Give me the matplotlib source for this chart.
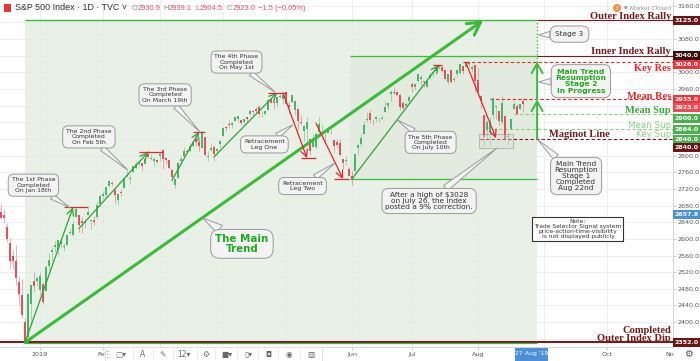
import matplotlib
matplotlib.use("Agg")
import matplotlib.pyplot as plt
from matplotlib.patches import Rectangle, Ellipse
import numpy as np
import pandas as pd

# ---- data: S&P 500 daily candles ----
holidays = ["2018-12-25", "2019-01-01", "2019-01-21", "2019-02-18",
            "2019-04-19", "2019-05-27", "2019-07-04"]
dates = pd.bdate_range("2018-12-12", "2019-08-22", freq="C", holidays=holidays)

opens = [
    # Dec
    2664, 2658, 2629, 2590, 2559, 2547, 2496, 2466, 2401, 2364, 2443, 2498, 2499,
    # Jan
    2477, 2491, 2474, 2535, 2568, 2580, 2573, 2588, 2580, 2586, 2614, 2609, 2652, 2658, 2643, 2639, 2657, 2644, 2645, 2653, 2685,
    # Feb
    2703, 2706, 2728, 2735, 2717, 2693, 2713, 2722, 2750, 2743, 2761, 2770, 2780, 2782, 2780, 2804, 2793, 2787, 2789,
    # Mar
    2798, 2814, 2794, 2790, 2766, 2730, 2747, 2788, 2800, 2810, 2811, 2822, 2841, 2832, 2819, 2845, 2797, 2813, 2820, 2810, 2828,
    # Apr
    2848, 2869, 2877, 2874, 2884, 2888, 2886, 2882, 2892, 2900, 2908, 2913, 2916, 2904, 2899, 2910, 2935, 2928, 2926, 2941, 2937,
    # May
    2952, 2922, 2930, 2909, 2913, 2880, 2860, 2864, 2841, 2820, 2820, 2856, 2859, 2841, 2855, 2857, 2837, 2833, 2831, 2791, 2787, 2767,
    # Jun
    2752, 2763, 2819, 2828, 2853, 2885, 2903, 2882, 2887, 2887, 2889, 2906, 2920, 2949, 2952, 2952, 2946, 2926, 2920, 2932,
    # Jul
    2971, 2965, 2979, 2985, 2980, 2966, 2989, 2999, 3003, 3017, 3012, 3006, 2978, 3005, 2981, 2995, 2999, 3016, 3014, 3024, 3007, 3017,
    # Aug
    2981, 2944, 2898, 2862, 2858, 2897, 2918, 2907, 2881, 2895, 2846, 2865, 2913, 2920, 2912, 2930.9,
]
highs = [
    2685, 2671, 2638, 2601, 2573, 2585, 2510, 2504, 2410, 2467, 2489, 2520, 2510,
    2520, 2493, 2538, 2566, 2580, 2595, 2597, 2596, 2590, 2612, 2625, 2645, 2676, 2658, 2653, 2647, 2673, 2644, 2655, 2690, 2708,
    2716, 2725, 2739, 2739, 2719, 2709, 2719, 2745, 2762, 2757, 2775, 2788, 2790, 2782, 2794, 2813, 2803, 2796, 2793,
    2808, 2816, 2797, 2791, 2768, 2745, 2784, 2798, 2821, 2816, 2831, 2836, 2852, 2844, 2861, 2846, 2810, 2830, 2826, 2819, 2837,
    2870, 2872, 2885, 2881, 2893, 2896, 2886, 2889, 2893, 2911, 2909, 2917, 2922, 2908, 2910, 2936, 2937, 2933, 2940, 2949, 2948,
    2955, 2932, 2948, 2933, 2914, 2898, 2874, 2892, 2841, 2853, 2858, 2892, 2876, 2853, 2868, 2863, 2837, 2841, 2841, 2792, 2799, 2772,
    2763, 2804, 2828, 2853, 2884, 2904, 2910, 2888, 2895, 2894, 2898, 2931, 2930, 2958, 2965, 2955, 2947, 2932, 2929, 2943,
    2978, 2974, 2996, 2994, 2980, 2981, 3002, 3003, 3014, 3017, 3016, 3006, 2996, 3007, 2991, 3005, 3020, 3016, 3028, 3025, 3018, 3018,
    3014, 2945, 2898, 2885, 2892, 2938, 2919, 2907, 2943, 2895, 2857, 2889, 2931, 2924, 2924, 2939.1,
]
lows = [
    2650, 2637, 2593, 2530, 2528, 2488, 2441, 2409, 2351, 2350, 2398, 2473, 2487,
    2468, 2444, 2474, 2525, 2547, 2569, 2562, 2577, 2571, 2586, 2612, 2606, 2652, 2617, 2613, 2627, 2657, 2624, 2633, 2648, 2678,
    2696, 2700, 2724, 2727, 2687, 2682, 2703, 2722, 2748, 2732, 2760, 2767, 2774, 2764, 2780, 2794, 2789, 2775, 2782,
    2787, 2767, 2781, 2768, 2738, 2722, 2747, 2787, 2799, 2804, 2810, 2821, 2823, 2812, 2818, 2800, 2786, 2812, 2788, 2799, 2819,
    2848, 2859, 2866, 2867, 2883, 2881, 2874, 2879, 2881, 2898, 2896, 2901, 2893, 2892, 2897, 2909, 2926, 2913, 2917, 2939, 2924,
    2923, 2901, 2929, 2898, 2862, 2873, 2836, 2826, 2802, 2820, 2815, 2855, 2852, 2831, 2855, 2852, 2806, 2820, 2801, 2767, 2777, 2751,
    2729, 2763, 2801, 2823, 2853, 2882, 2878, 2874, 2881, 2880, 2887, 2905, 2911, 2932, 2947, 2944, 2910, 2912, 2919, 2929,
    2953, 2958, 2978, 2967, 2966, 2964, 2984, 2988, 3003, 3008, 3000, 2984, 2972, 2974, 2976, 2988, 2997, 2996, 3013, 3015, 3000, 2954,
    2946, 2914, 2822, 2840, 2825, 2891, 2888, 2874, 2877, 2840, 2826, 2865, 2913, 2899, 2911, 2904.5,
]
closes = [
    2651, 2650, 2600, 2546, 2546, 2507, 2467, 2417, 2351, 2468, 2489, 2486, 2507,
    2510, 2448, 2532, 2550, 2574, 2585, 2597, 2596, 2583, 2610, 2616, 2636, 2671, 2633, 2639, 2642, 2665, 2644, 2640, 2681, 2704,
    2707, 2725, 2738, 2732, 2706, 2708, 2710, 2745, 2753, 2746, 2776, 2780, 2785, 2775, 2793, 2796, 2794, 2792, 2784,
    2804, 2793, 2790, 2771, 2749, 2743, 2783, 2792, 2811, 2808, 2822, 2833, 2833, 2824, 2855, 2801, 2798, 2818, 2805, 2815, 2834,
    2867, 2867, 2873, 2879, 2893, 2896, 2878, 2888, 2888, 2907, 2906, 2907, 2900, 2905, 2908, 2934, 2927, 2926, 2940, 2943, 2946,
    2924, 2918, 2946, 2932, 2884, 2879, 2871, 2881, 2812, 2834, 2851, 2876, 2860, 2840, 2864, 2856, 2822, 2826, 2802, 2783, 2789, 2752,
    2744, 2803, 2826, 2843, 2873, 2887, 2886, 2880, 2892, 2887, 2890, 2918, 2926, 2954, 2950, 2945, 2917, 2914, 2925, 2942,
    2964, 2973, 2996, 2990, 2976, 2980, 2993, 3000, 3014, 3014, 3004, 2984, 2995, 2977, 2985, 3005, 3020, 3004, 3026, 3021, 3013, 2980,
    2954, 2932, 2845, 2882, 2884, 2938, 2919, 2883, 2926, 2841, 2848, 2889, 2924, 2901, 2924, 2923.0,
]

# key levels drawn by the author
outer_rally = 3125
inner_rally = 3040
key_res = 3026
mean_res = 2935
mean_sup = 2900
mean_sup2 = 2864
maginot = 2840
outer_dip = 2352
leg_low = 2744

# (start date, start price, end date, end price)
phase_legs = [
    ("2018-12-24", 2351, "2019-01-17", 2676),
    ("2019-01-22", 2625, "2019-02-25", 2808),
    ("2019-03-07", 2741, "2019-03-20", 2857),
    ("2019-03-27", 2797, "2019-04-26", 2951),
    ("2019-06-03", 2744, "2019-07-15", 3018),
]
down_legs = [
    ("2019-04-30", 2951, "2019-05-10", 2794),
    ("2019-05-15", 2878, "2019-05-29", 2744),
    ("2019-07-26", 3023, "2019-08-09", 2842),
]
# short red markers at the leg extremes: (from, to, price)
markers = [
    ("2019-01-14", "2019-01-25", 2676), ("2019-02-20", "2019-03-04", 2808),
    ("2019-03-18", "2019-03-22", 2857), ("2019-04-23", "2019-05-01", 2951),
    ("2019-05-08", "2019-05-15", 2794), ("2019-05-23", "2019-05-31", 2744),
    ("2019-07-11", "2019-07-16", 3018), ("2019-07-25", "2019-07-29", 3026),
]

# month labels; the ones hidden under the toolbar / date tag in the original stay blank
month_labels = ["2019", "Feb", "", "", "", "Jun", "Jul", "Aug", "", "Oct", "Nov"]
price_ticks = [3160, 3080, 3000, 2960, 2800, 2760, 2720, 2680, 2640, 2600,
               2560, 2520, 2480, 2440, 2400]

# ---- styles ----
W, H = 700, 361
UP, DN = "#4cb36c", "#e6505b"
GREEN = "#3cba3c"
LEG_GREEN = "#2fa33a"
RED = "#e8262d"
MAROON = "#761b1f"
LIGHT_GREEN = "#8ccf86"
BOX_FC, BOX_EC = "#f3f3f3", "#9a9a9a"

all_days = dates.append(pd.bdate_range("2019-08-23", "2019-11-29"))
pos = {d.strftime("%Y-%m-%d"): i for i, d in enumerate(all_days)}

fig = plt.figure(figsize=(7, 3.61), dpi=100)
ax = fig.add_axes([0, 14 / H, 673 / W, 347 / H])
ax.set_xlim(-1 / 3, 224)
ax.set_ylim(2340.2, 3174)

stage_x = pos["2019-08-28"] + 0.7
dec24 = pos["2018-12-24"]
jun3 = pos["2019-06-03"] - 0.6

# shaded zones
ax.add_patch(Rectangle((dec24, outer_dip), stage_x - dec24, outer_rally - outer_dip,
                       fc="#e9f0e6", ec="none", zorder=0.1))
ax.add_patch(Rectangle((jun3, leg_low), stage_x - jun3, inner_rally - leg_low,
                       fc="#e2ebdd", ec="none", zorder=0.15))

# grid
for v in np.arange(2360, 3161, 40):
    ax.axhline(v, color="#e4e8ee", lw=0.5, zorder=0.3)
month_pos = []
for m in range(1, 12):
    idx = [i for i, d in enumerate(all_days) if d.year == 2019 and d.month == m]
    month_pos.append(idx[0])
for p in month_pos:
    ax.axvline(p, color="#e4e8ee", lw=0.5, zorder=0.3)

# level lines
ax.hlines(outer_rally, dec24, stage_x, color=GREEN, lw=1.0, zorder=1)
ax.hlines(outer_rally, stage_x, 224, color=MAROON, lw=0.8, zorder=1)
ax.hlines(inner_rally, jun3, stage_x, color=GREEN, lw=0.9, zorder=1)
ax.hlines(inner_rally, stage_x, 224, color=MAROON, lw=0.8, zorder=1)
ax.hlines(leg_low, jun3, stage_x, color=GREEN, lw=0.9, zorder=1)
ax.hlines(outer_dip, -1, 224, color=MAROON, lw=1.5, zorder=1)
ax.hlines(outer_dip - 2.6, dec24, stage_x, color=GREEN, lw=0.9, zorder=1)
dash = (0, (3, 2))
ax.hlines(key_res, pos["2019-07-26"], 224, color=RED, lw=0.8, linestyles=dash, zorder=1)
ax.hlines(mean_res, pos["2019-08-07"], 224, color=RED, lw=0.8, linestyles=dash, zorder=1)
ax.hlines(mean_sup, pos["2019-08-19"], 224, color=LIGHT_GREEN, lw=0.8, linestyles=dash, zorder=1)
ax.hlines(mean_sup2, pos["2019-08-07"] + 1, 224, color=LIGHT_GREEN, lw=0.8, linestyles=dash, zorder=1)
ax.hlines(maginot, pos["2019-08-01"] + 0.7, 224, color=MAROON, lw=0.8, linestyles=dash, zorder=1)

# candles
o, h, l, c = (np.array(a, dtype=float) for a in (opens, highs, lows, closes))
x = np.arange(len(c))
col = np.where(c >= o, UP, DN)
ax.vlines(x, l, h, colors=col, lw=0.6, alpha=0.55, zorder=2)
ax.bar(x, np.maximum(np.abs(c - o), 0.9), bottom=np.minimum(o, c), width=0.62,
       color=col, linewidth=0, zorder=2.1)

# correction box
ax.add_patch(Rectangle((pos["2019-08-01"] + 0.3, 2818), 11.4, 34, fc="#d8ddd8", alpha=0.35,
                       ec="#6d6d6d", lw=0.8, zorder=2.5))

# arrows
def arrow(x0, y0, x1, y1, color, lw, hl, hw):
    ax.annotate("", xy=(x1, y1), xytext=(x0, y0), zorder=3,
                arrowprops=dict(arrowstyle=f"->,head_length={hl},head_width={hw}",
                                color=color, lw=lw, shrinkA=0, shrinkB=0))

arrow(dec24, 2351, pos["2019-08-05"] - 0.3, outer_rally, GREEN, 2.2, 0.9, 0.5)
for d0, v0, d1, v1 in phase_legs:
    arrow(pos[d0], v0, pos[d1], v1, LEG_GREEN, 0.9, 0.5, 0.25)
for d0, v0, d1, v1 in down_legs:
    arrow(pos[d0], v0, pos[d1], v1, RED, 0.9, 0.5, 0.25)
for d0, d1, v in markers:
    ax.hlines(v, pos[d0], pos[d1], color=RED, lw=0.9, zorder=3)
arrow(stage_x, maginot, stage_x, mean_res, GREEN, 1.4, 0.7, 0.4)
arrow(stage_x, mean_res, stage_x, key_res, GREEN, 1.4, 0.7, 0.4)
ax.vlines(stage_x, key_res, outer_rally, colors=GREEN, lw=1.0, linestyles=(0, (1, 1.5)), zorder=3)

# callouts
def callout(text, box, tip, size, color="#333333", weight="normal", pad=0.55, ls=1.05):
    ax.annotate(text, xy=tip, xytext=box, ha="center", va="center", fontsize=size,
                color=color, fontweight=weight, linespacing=ls, zorder=6,
                bbox=dict(boxstyle=f"round,pad={pad},rounding_size=0.9", fc=BOX_FC, ec=BOX_EC, lw=0.7),
                arrowprops=dict(arrowstyle="wedge,tail_width=0.9,shrink_factor=0.5",
                                fc=BOX_FC, ec=BOX_EC, lw=0.7, shrinkA=0, shrinkB=0))

callout("The 1st Phase\nCompleted\nOn Jan 18th", (10.8, 2729), (23, 2675), 4.4)
callout("The 2nd Phase\nCompleted\nOn Feb 5th", (29.3, 2845), (42.3, 2765), 4.4)
callout("The 3rd Phase\nCompleted\nOn March 19th", (54.7, 2946), (66.3, 2857), 4.4)
callout("The 4th Phase\nCompleted\nOn May 1st", (78.5, 3025), (91.3, 2953), 4.4)
callout("Retracement\nLeg One", (87.8, 2827), (97.3, 2874), 4.5)
callout("Retracement\nLeg Two", (100.5, 2727), (111.3, 2782), 4.5)
callout("The Main\nTrend", (80.3, 2588), (67.3, 2650), 7.4, "#1eaa1e", "bold", 0.45, 0.95)
callout("The 5th Phase\nCompleted\nOn July 10th", (143.2, 2832), (132, 2886), 4.4)
callout("After a high of $3028\non July 26, the index\nposted a 9% correction.",
        (142.7, 2691), (165.3, 2818), 5.3, pad=0.45)
callout("Stage 3", (189.5, 3092), (179.2, 3090), 5.3, pad=0.7)
callout("Main Trend\nResumption\nStage 2\nIn Progress", (193.3, 2979), (179.2, 2977), 5.4,
        "#1eaa1e", "bold", 0.55, 1.05)
callout("Main Trend\nResumption\nStage 1\nCompleted\nAug 22nd", (191.7, 2751), (178.9, 2838), 5.3,
        pad=0.5, ls=1.0)
ax.text(192.3, 2624, "Note:\nTrade Selector Signal system\nprice-action-time-visibility\nis not displayed publicly",
        ha="center", va="center", fontsize=4.3, color="#333333", linespacing=1.0, zorder=6,
        bbox=dict(boxstyle="square,pad=0.3", fc="white", ec="#333333", lw=0.8))

# level names
serif = dict(family="Liberation Serif", fontweight="bold", fontsize=7.6, ha="right",
             va="baseline", zorder=5)
xr = 223.3
ax.text(xr, 3128, "Outer Index Rally", color=MAROON, **serif)
ax.text(xr, 3043.5, "Inner Index Rally", color=MAROON, **serif)
ax.text(xr, 3002.6, "Key Res", color=RED, **serif)
ax.text(xr, 2937, "Mean Res", color=RED, **serif)
ax.text(xr, 2903, "Mean Sup", color="#3aa838", **serif)
ax.text(203, 2844, "Maginot Line", color=MAROON, **serif)
ax.text(xr, 2374.5, "Completed", color=MAROON, **serif)
ax.text(xr, 2355.3, "Outer Index Dip", color=MAROON, **serif)
ax.text(xr, 2866, "Mean Sup", color=LIGHT_GREEN, fontsize=6.3, ha="right", va="baseline", zorder=5)
ax.text(xr, 2844, "Key Sup", color=LIGHT_GREEN, fontsize=6.3, ha="right", va="baseline", zorder=5)

# axes styling
for s in ("left", "top"):
    ax.spines[s].set_visible(False)
for s in ("right", "bottom"):
    ax.spines[s].set_color("#cfcfcf")
    ax.spines[s].set_linewidth(0.6)
ax.yaxis.tick_right()
ax.set_yticks(price_ticks)
ax.set_yticklabels([f"{v:.1f}" for v in price_ticks])
ax.tick_params(axis="y", length=2, width=0.5, color="#bbbbbb", labelcolor="#555555",
               labelsize=4.6, pad=1)
ax.set_xticks(month_pos[:10])
ax.set_xticklabels(month_labels[:10])
ax.tick_params(axis="x", length=2, width=0.5, color="#bbbbbb", labelcolor="#555555",
               labelsize=4.6, pad=1.5)
# the last month label sits against the price scale and is cut to "No" there
ax.text(month_pos[10] - 2.2, -0.014, month_labels[10][:2], transform=ax.get_xaxis_transform(),
        ha="center", va="top", fontsize=4.6, color="#555555", clip_on=False)

# price tags on the axis
fig.canvas.draw()
def price_tag(value, color, shift=0.0, text=None):
    yd = ax.transData.transform((0, value))[1] - shift
    fig.add_artist(Rectangle((673 / W, (yd - 4.5) / H), 27 / W, 9 / H, transform=fig.transFigure,
                             fc=color, ec="none", zorder=20))
    fig.text(686.5 / W, yd / H, text or f"{value:.1f}", ha="center", va="center", fontsize=4.5,
             color="white", fontweight="bold", zorder=21)

price_tag(outer_rally, "#6b1519")
price_tag(inner_rally, "#3a0d0f", -0.5)
price_tag(key_res, "#f0333b", 3)
price_tag(mean_res, "#f0333b")
price_tag(2923.0, "#ef4a53", 3.5)
price_tag(mean_sup, "#4caf50", 4)
price_tag(mean_sup2, "#4caf50", 0)
price_tag(maginot, "#4caf50", 0.5)
price_tag(maginot, "#6b1519", 8.5)
price_tag(2657.8, "#4a8fd8")
price_tag(outer_dip, "#6b1519")

# right-bottom corner, date tag, toolbar
fig.add_artist(Rectangle((673.5 / W, 0), 26.5 / W, 13.5 / H, transform=fig.transFigure,
                         fc="white", ec="none", zorder=20))
fig.text(688 / W, 7 / H, "⚙", ha="center", va="center", fontsize=7, color="#555555", zorder=21)
fig.add_artist(Rectangle((515 / W, 0), 33 / W, 13.5 / H, transform=fig.transFigure,
                         fc="#4a8fd8", ec="none", zorder=20))
fig.text(531.5 / W, 7 / H, "27 Aug '19", ha="center", va="center", fontsize=4.4,
         color="white", zorder=21)
fig.add_artist(Rectangle((105 / W, 0), 217 / W, 14 / H, transform=fig.transFigure,
                         fc="white", ec="#dddddd", lw=0.6, zorder=20))
tools = [(107, "⋮"), (121, "▢▾"), (143, "A"), (163, "✎"), (184, "12▾"), (206, "⚙"),
         (227, "■▾"), (248, "▯▾"), (268, "◘"), (289, "◉"), (311, "▥")]
for tx, g in tools:
    fig.text(tx / W, 6.5 / H, g, ha="center", va="center", fontsize=5.5, color="#6a6a6a", zorder=21)
for sx in (133, 153, 173, 197, 215, 237, 258, 278, 300):
    fig.add_artist(plt.Line2D([sx / W, sx / W], [2 / H, 12 / H], transform=fig.transFigure,
                              color="#e6e6e6", lw=0.6, zorder=21))

# header
fig.add_artist(Rectangle((4 / W, 1 - 12 / H), 7 / W, 8 / H, transform=fig.transFigure,
                         fc="#e8353b", ec="none", zorder=20))
fig.text(15 / W, 1 - 8 / H, "S&P 500 Index · 1D · TVC ˅", fontsize=6.4, family="Liberation Sans",
         color="#333333", va="center", zorder=21)
for lx, letter, val, off in [(132, "O", "2930.9", 5.8), (163, "H", "2939.1", 5.4),
                             (195, "L", "2904.5", 4.2), (227, "C", "2923.0", 5.4)]:
    fig.text(lx / W, 1 - 8.5 / H, letter, fontsize=5.4, family="Liberation Sans",
             color="#8a8a8a", va="center", zorder=21)
    fig.text((lx + off) / W, 1 - 8.5 / H, val, fontsize=5.4, family="Liberation Sans",
             color="#e0525d", va="center", zorder=21)
fig.text(258 / W, 1 - 8.5 / H, "−1.5 (−0.05%)", fontsize=5.4, family="Liberation Sans",
         color="#e0525d", va="center", zorder=21)
fig.add_artist(Ellipse((617 / W, 1 - 8 / H), 8 / W, 8 / H, transform=fig.transFigure,
                       fc="#f5923e", ec="none", zorder=20))
fig.text(617 / W, 1 - 8 / H, "!", fontsize=4, color="white", ha="center", va="center",
         fontweight="bold", zorder=21)
fig.text(626 / W, 1 - 8 / H, "●", fontsize=3, color="#9a9a9a", ha="center", va="center", zorder=21)
fig.text(630 / W, 1 - 8 / H, "Market Closed", fontsize=4.6, family="Liberation Sans",
         color="#9a9a9a", va="center", zorder=21)

fig.savefig("out.png", dpi=100)
